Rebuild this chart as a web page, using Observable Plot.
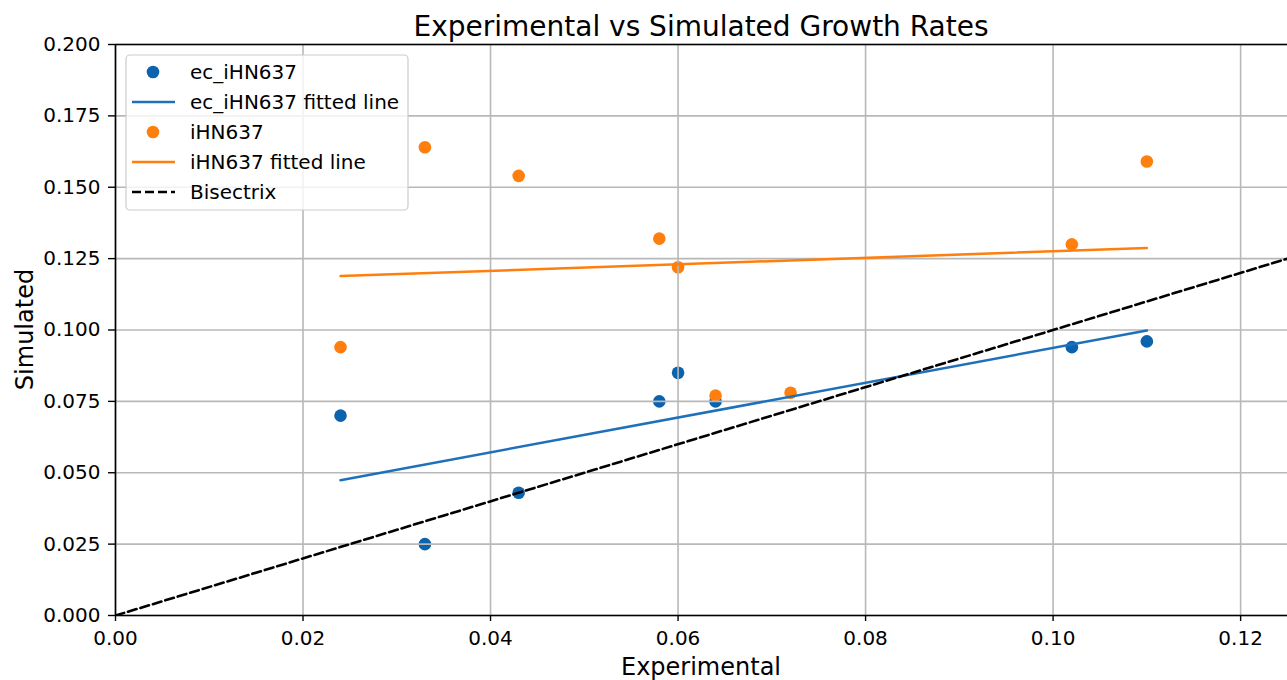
<!DOCTYPE html>
<html>
<head>
<meta charset="utf-8">
<script src="https://cdn.jsdelivr.net/npm/d3@7"></script>
<script src="https://cdn.jsdelivr.net/npm/@observablehq/plot@0.6"></script>
<style>
  html, body { margin: 0; padding: 0; background: white; }
</style>
</head>
<body>
<div id="chart"></div>
<script>
// ---- Data ----
const ecX = [0.024, 0.033, 0.043, 0.058, 0.060, 0.064, 0.102, 0.110];
const ecY = [0.070, 0.025, 0.043, 0.075, 0.085, 0.075, 0.094, 0.096];
const ihnX = [0.024, 0.033, 0.043, 0.058, 0.060, 0.064, 0.072, 0.102, 0.110];
const ihnY = [0.094, 0.164, 0.154, 0.132, 0.122, 0.077, 0.078, 0.130, 0.159];
const ecFitX = [0.024, 0.110];
const ecFitY = [0.0474, 0.0998];
const ihnFitX = [0.024, 0.110];
const ihnFitY = [0.1189, 0.1287];
const bisX = [0, 0.125];
const bisY = [0, 0.125];
const xTicks = [0, 0.02, 0.04, 0.06, 0.08, 0.10, 0.12];
const yTicks = [0, 0.025, 0.05, 0.075, 0.10, 0.125, 0.15, 0.175, 0.20];
const legendLabels = ["ec_iHN637", "ec_iHN637 fitted line", "iHN637", "iHN637 fitted line", "Bisectrix"];
const titleText = "Experimental vs Simulated Growth Rates";
const xLabel = "Experimental";
const yLabel = "Simulated";

const BLUE_DOT = "#0b62ad", BLUE_LINE = "#1f70bb";
const ORANGE_DOT = "#ff7f0e", ORANGE_LINE = "#ff7f0e";
const GRID = "#b8b8b8";

const toRows = (xs, ys) => xs.map((x, i) => ({x, y: ys[i]}));
const ec = toRows(ecX, ecY), ihn = toRows(ihnX, ihnY);
const ecFit = toRows(ecFitX, ecFitY), ihnFit = toRows(ihnFitX, ihnFitY);
const bis = toRows(bisX, bisY);

const W = 1287, H = 680, ML = 115, MR = 0, MT = 44, MB = 65;

const plot = Plot.plot({
  width: W, height: H,
  marginLeft: ML, marginRight: MR, marginTop: MT, marginBottom: MB,
  style: {fontFamily: "DejaVu Sans, sans-serif", fontSize: "20px", color: "#000", background: "white", overflow: "visible"},
  x: {domain: [0, 0.125]},
  y: {domain: [0, 0.2]},
  marks: [
    Plot.dot(ec, {x: "x", y: "y", r: 6.3, fill: BLUE_DOT, stroke: "none"}),
    Plot.dot(ihn, {x: "x", y: "y", r: 6.3, fill: ORANGE_DOT, stroke: "none"}),
    Plot.gridX(xTicks, {stroke: GRID, strokeOpacity: 1, strokeWidth: 1.6}),
    Plot.gridY(yTicks, {stroke: GRID, strokeOpacity: 1, strokeWidth: 1.6}),
    Plot.line(ecFit, {x: "x", y: "y", stroke: BLUE_LINE, strokeWidth: 2.5}),
    Plot.line(ihnFit, {x: "x", y: "y", stroke: ORANGE_LINE, strokeWidth: 2.5}),
    Plot.line(bis, {x: "x", y: "y", stroke: "#000", strokeWidth: 2.6, strokeDasharray: "9,4", clip: true}),
    Plot.axisX({ticks: xTicks, tickFormat: d => d.toFixed(2), tickSize: 6, tickPadding: 9, label: null, stroke: "#000", strokeWidth: 1.4, fill: "#000"}),
    Plot.axisY({ticks: yTicks, tickFormat: d => d.toFixed(3), tickSize: 7, tickPadding: 8, label: null, stroke: "#000", strokeWidth: 1.4, fill: "#000"}),
    Plot.ruleX([0], {stroke: "#000", strokeWidth: 1.6}),
    Plot.ruleY([0, 0.2], {stroke: "#000", strokeWidth: 1.6})
  ]
});

const svg = d3.select(plot);
// enlarge tick labels
svg.selectAll('g[aria-label$="tick label"]').attr("font-size", 20).style("font-size", "20px");
svg.selectAll('g[aria-label$="tick label"] text').attr("font-size", 20).style("font-size", "20px");

svg.append("text")
  .attr("x", (ML + W - MR) / 2).attr("y", 36)
  .attr("text-anchor", "middle").attr("font-size", 28).attr("fill", "#000")
  .text(titleText);
svg.append("text")
  .attr("x", (ML + W - MR) / 2).attr("y", 675)
  .attr("text-anchor", "middle").attr("font-size", 24).attr("fill", "#000")
  .text(xLabel);
svg.append("text")
  .attr("transform", `translate(33,${(MT + H - MB) / 2}) rotate(-90)`)
  .attr("text-anchor", "middle").attr("font-size", 24).attr("fill", "#000")
  .text(yLabel);

// Legend
const lg = svg.append("g").attr("text-anchor", "start");
lg.append("rect")
  .attr("x", 126).attr("y", 55).attr("width", 282).attr("height", 155)
  .attr("rx", 4).attr("fill", "white").attr("fill-opacity", 0.8)
  .attr("stroke", "#cccccc").attr("stroke-width", 1.2);
const rowY = [72, 102, 132, 162, 192];
const kinds = [
  {type: "dot", color: BLUE_DOT},
  {type: "line", color: BLUE_LINE},
  {type: "dot", color: ORANGE_DOT},
  {type: "line", color: ORANGE_LINE},
  {type: "dash", color: "#000"}
];
legendLabels.forEach((lab, i) => {
  const y = rowY[i], k = kinds[i];
  if (k.type === "dot") {
    lg.append("circle").attr("cx", 153).attr("cy", y).attr("r", 6.3).attr("fill", k.color);
  } else {
    lg.append("line").attr("x1", 132).attr("x2", 175).attr("y1", y).attr("y2", y)
      .attr("stroke", k.color).attr("stroke-width", k.type === "dash" ? 2.6 : 2.5)
      .attr("stroke-dasharray", k.type === "dash" ? "9,4" : null);
  }
  lg.append("text").attr("x", 190).attr("y", y).attr("dy", "0.36em")
    .attr("text-anchor", "start")
    .attr("font-size", 20).attr("fill", "#000").text(lab);
});

document.getElementById("chart").appendChild(plot);
</script>
</body>
</html>
